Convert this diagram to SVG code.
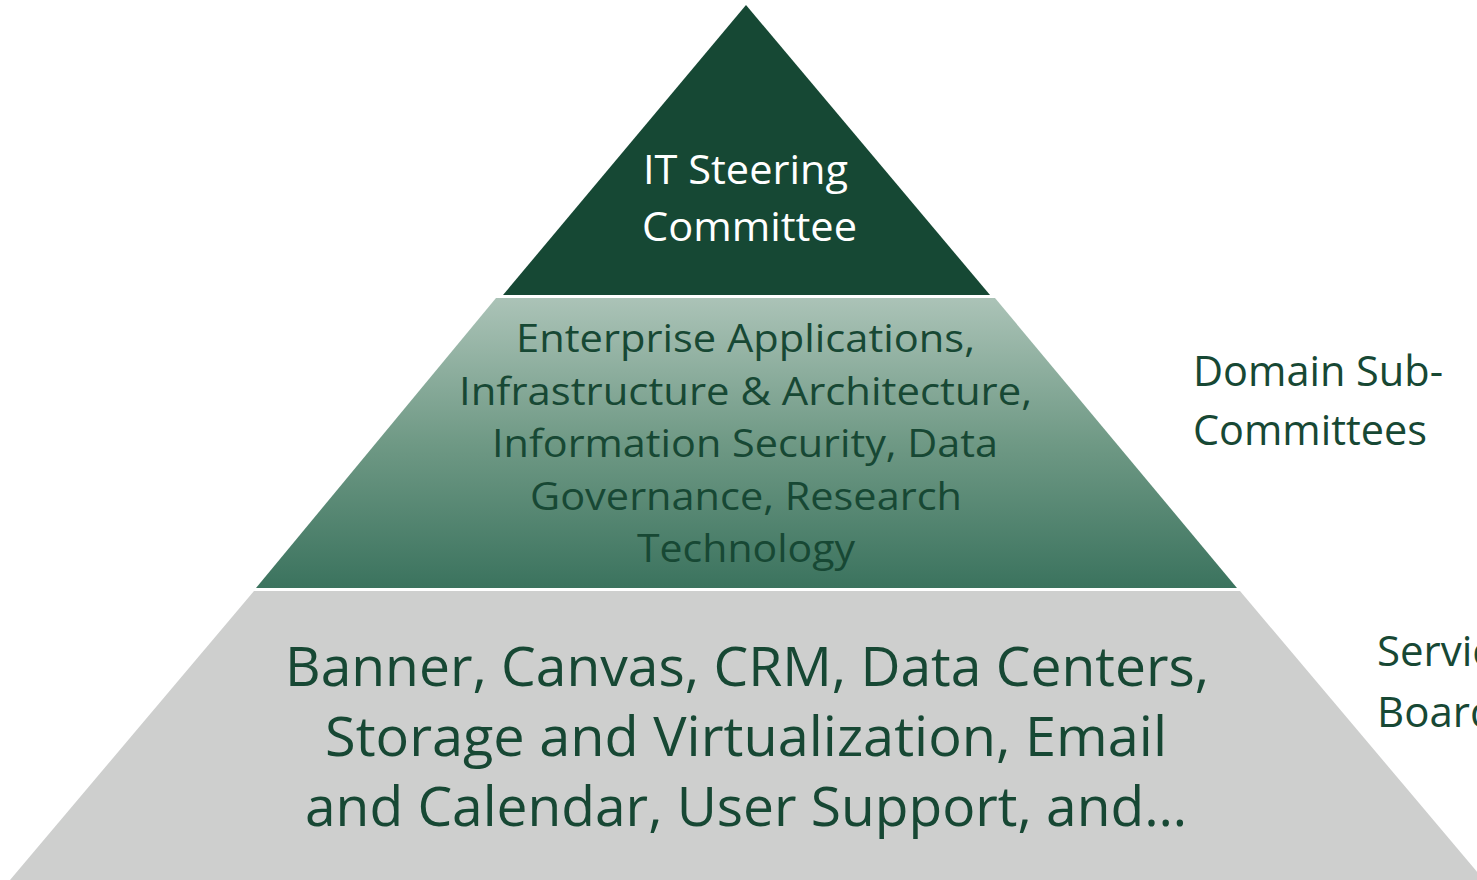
<svg xmlns="http://www.w3.org/2000/svg" width="1477" height="880" viewBox="0 0 1477 880">
  <defs>
    <linearGradient id="midGrad" x1="0" y1="298" x2="0" y2="588" gradientUnits="userSpaceOnUse">
      <stop offset="0" stop-color="#abc3b7"/>
      <stop offset="0.5" stop-color="#6f9985"/>
      <stop offset="1" stop-color="#3b735e"/>
    </linearGradient>
    <style>
      text { font-family: "Open Sans", "Noto Sans", "Liberation Sans", sans-serif; }
      .top-text { fill: #ffffff; font-size: 41px; }
      .mid-text { fill: #174834; font-size: 39px; }
      .bot-text { fill: #174834; font-size: 55px; }
      .side-text { fill: #174834; font-size: 42px; }
    </style>
  </defs>
  <rect x="0" y="0" width="1477" height="880" fill="#ffffff"/>

  <g id="tier-top">
    <polygon points="746,5 503,295 990,295" fill="#164834"/>
    <text class="top-text" x="643" y="184" textLength="205" lengthAdjust="spacingAndGlyphs">IT Steering</text>
    <text class="top-text" x="642" y="241" textLength="215" lengthAdjust="spacingAndGlyphs">Committee</text>
  </g>

  <g id="tier-middle">
    <polygon points="496,298 995,298 1237,588 256,588" fill="url(#midGrad)"/>
    <text class="mid-text" x="516" y="352" textLength="459" lengthAdjust="spacingAndGlyphs">Enterprise Applications,</text>
    <text class="mid-text" x="459" y="405" textLength="573" lengthAdjust="spacingAndGlyphs">Infrastructure &amp; Architecture,</text>
    <text class="mid-text" x="492" y="457" textLength="506" lengthAdjust="spacingAndGlyphs">Information Security, Data</text>
    <text class="mid-text" x="530" y="510" textLength="432" lengthAdjust="spacingAndGlyphs">Governance, Research</text>
    <text class="mid-text" x="637" y="562" textLength="218" lengthAdjust="spacingAndGlyphs">Technology</text>
  </g>

  <g id="tier-bottom">
    <polygon points="254,591 1240,591 1484,880 10,880" fill="#cecfce"/>
    <text class="bot-text" x="285" y="686" textLength="924" lengthAdjust="spacingAndGlyphs">Banner, Canvas, CRM, Data Centers,</text>
    <text class="bot-text" x="325" y="756" textLength="842" lengthAdjust="spacingAndGlyphs">Storage and Virtualization, Email</text>
    <text class="bot-text" x="305" y="826" textLength="882" lengthAdjust="spacingAndGlyphs">and Calendar, User Support, and…</text>
  </g>

  <g id="label-domain">
    <text class="side-text" x="1193" y="386" textLength="250" lengthAdjust="spacingAndGlyphs">Domain Sub-</text>
    <text class="side-text" x="1193" y="445" textLength="234" lengthAdjust="spacingAndGlyphs">Committees</text>
  </g>

  <g id="label-service">
    <text class="side-text" x="1377" y="666">Service</text>
    <text class="side-text" x="1377" y="727">Boards</text>
  </g>
</svg>
